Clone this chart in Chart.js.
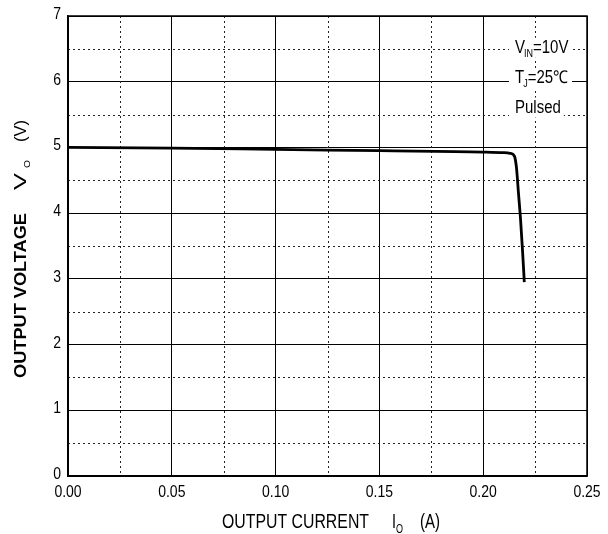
<!DOCTYPE html>
<html>
<head>
<meta charset="utf-8">
<script src="https://cdn.jsdelivr.net/npm/chart.js@4"></script>
<style>
  html, body { margin: 0; padding: 0; background: #fff; }
  #wrap { width: 608px; height: 534px; }
</style>
</head>
<body>
<div id="wrap"><canvas id="vChart" width="608" height="534"></canvas></div>
<script>
// output current (A) and output voltage (V)
const currentA = [0, 0.05, 0.10, 0.15, 0.20, 0.21, 0.213, 0.215, 0.216, 0.217, 0.218, 0.219, 0.2198];
const voltageV = [5.00, 4.99, 4.97, 4.95, 4.93, 4.92, 4.91, 4.87, 4.70, 4.30, 3.90, 3.40, 2.95];
const halfTicksX = [0.025, 0.075, 0.125, 0.175, 0.225];
const halfTicksY = [0.5, 1.5, 2.5, 3.5, 4.5, 5.5, 6.5];
const notes = [
    { main: 'V', sub: 'IN', rest: '=10V', value: 6.44 },
    { main: 'T', sub: 'J', rest: '=25\u2103', value: 5.98 },
    { main: 'Pulsed', sub: '', rest: '', value: 5.53 }
];

const FONT = '"Liberation Sans", Arial, sans-serif';
const KY = 1.18; // the source sheet is a bit stretched vertically

// text drawn with a vertical stretch, baseline at (x, y)
function tallText(ctx, text, x, y, size, align, bold) {
    ctx.save();
    ctx.font = (bold ? 'bold ' : '') + size + 'px ' + FONT;
    ctx.textAlign = align || 'left';
    ctx.textBaseline = 'alphabetic';
    ctx.translate(x, y);
    ctx.scale(1, KY);
    ctx.fillText(text, 0, 0);
    const w = ctx.measureText(text).width;
    ctx.restore();
    return w;
}

// text squeezed into a given width and cap height
function fitText(ctx, text, x, y, width, capH, bold) {
    ctx.save();
    ctx.font = (bold ? 'bold ' : '') + '20px ' + FONT;
    ctx.textAlign = 'left';
    ctx.textBaseline = 'alphabetic';
    const w = ctx.measureText(text).width;
    ctx.translate(x, y);
    ctx.scale(width / w, capH / (0.716 * 20));
    ctx.fillText(text, 0, 0);
    ctx.restore();
}

const sheetPlugin = {
    id: 'sheet',
    beforeDatasetsDraw(chart) {
        const ctx = chart.ctx;
        const a = chart.chartArea;
        const sx = chart.scales.x, sy = chart.scales.y;
        ctx.save();
        ctx.strokeStyle = '#222';
        ctx.lineWidth = 1;
        ctx.setLineDash([2, 3]);
        halfTicksX.forEach(v => {
            const px = Math.round(sx.getPixelForValue(v)) + 0.5;
            ctx.beginPath(); ctx.moveTo(px, a.top); ctx.lineTo(px, a.bottom); ctx.stroke();
        });
        halfTicksY.forEach(v => {
            const py = Math.round(sy.getPixelForValue(v)) + 0.5;
            ctx.beginPath(); ctx.moveTo(a.left, py); ctx.lineTo(a.right, py); ctx.stroke();
        });
        ctx.setLineDash([]);

        // condition notes, white box behind each line
        const nx = sx.getPixelForValue(0.2153);
        notes.forEach(n => {
            const py = sy.getPixelForValue(n.value);
            ctx.font = '15px ' + FONT;
            let w = ctx.measureText(n.main).width + ctx.measureText(n.rest).width;
            ctx.font = '9px ' + FONT;
            w += ctx.measureText(n.sub).width;
            ctx.fillStyle = '#fff';
            ctx.fillRect(nx - 6, py - 15, w + 9, 20);
            ctx.fillStyle = '#000';
            let x = nx;
            x += tallText(ctx, n.main, x, py, 15);
            if (n.sub) {
                x += tallText(ctx, n.sub, x - 1, py + 4, 9) - 1;
            }
            tallText(ctx, n.rest, x, py, 15);
        });
        ctx.restore();
    },
    afterDraw(chart) {
        const ctx = chart.ctx;
        const a = chart.chartArea;
        const sx = chart.scales.x, sy = chart.scales.y;
        ctx.save();
        ctx.strokeStyle = '#000';
        ctx.lineWidth = 1.5;
        ctx.strokeRect(a.left, a.top, a.right - a.left, a.bottom - a.top);

        ctx.fillStyle = '#000';
        // tick labels
        sx.ticks.forEach(t => {
            tallText(ctx, t.value.toFixed(2), sx.getPixelForValue(t.value), 497, 14, 'center');
        });
        sy.ticks.forEach(t => {
            tallText(ctx, String(t.value), 61, sy.getPixelForValue(t.value) + 3, 14, 'right');
        });

        // x axis title
        fitText(ctx, 'OUTPUT CURRENT', 222, 528, 147, 14);
        fitText(ctx, 'I', 392, 528, 4, 14);
        fitText(ctx, 'O', 396, 533, 7, 9);
        fitText(ctx, '(A)', 420, 528, 20, 14);

        // y axis title, rotated
        ctx.translate(26, 0);
        ctx.rotate(-Math.PI / 2);
        fitText(ctx, 'OUTPUT VOLTAGE', -378, 0, 165, 12, true);
        fitText(ctx, 'V', -190, 0, 17, 12);
        fitText(ctx, 'O', -168, 4, 8, 7);
        fitText(ctx, '(V)', -142, 0, 22, 12);
        ctx.restore();
    }
};

const ctxV = document.getElementById('vChart').getContext('2d');

window.vChart = new Chart(ctxV, {
    type: 'scatter',
    data: {
        datasets: [{
            label: 'Vo',
            data: currentA.map((c, i) => ({ x: c, y: voltageV[i] })),
            showLine: true,
            borderColor: '#000',
            borderWidth: 2.8,
            pointRadius: 0,
            cubicInterpolationMode: 'monotone',
            fill: false
        }]
    },
    options: {
        responsive: false,
        animation: false,
        layout: { padding: { top: 16, right: 21, left: 0, bottom: 0 } },
        plugins: {
            legend: { display: false },
            tooltip: { enabled: false },
            title: { display: false }
        },
        scales: {
            x: {
                type: 'linear',
                min: 0,
                max: 0.25,
                afterFit: s => { s.height = 58; },
                ticks: { stepSize: 0.05, display: false },
                grid: { color: '#000', lineWidth: 1, drawTicks: false },
                border: { color: '#000', width: 1.5 }
            },
            y: {
                min: 0,
                max: 7,
                afterFit: s => { s.width = 68; },
                ticks: { stepSize: 1, display: false },
                grid: { color: '#000', lineWidth: 1, drawTicks: false },
                border: { color: '#000', width: 1.5 }
            }
        }
    },
    plugins: [sheetPlugin]
});
</script>
</body>
</html>
